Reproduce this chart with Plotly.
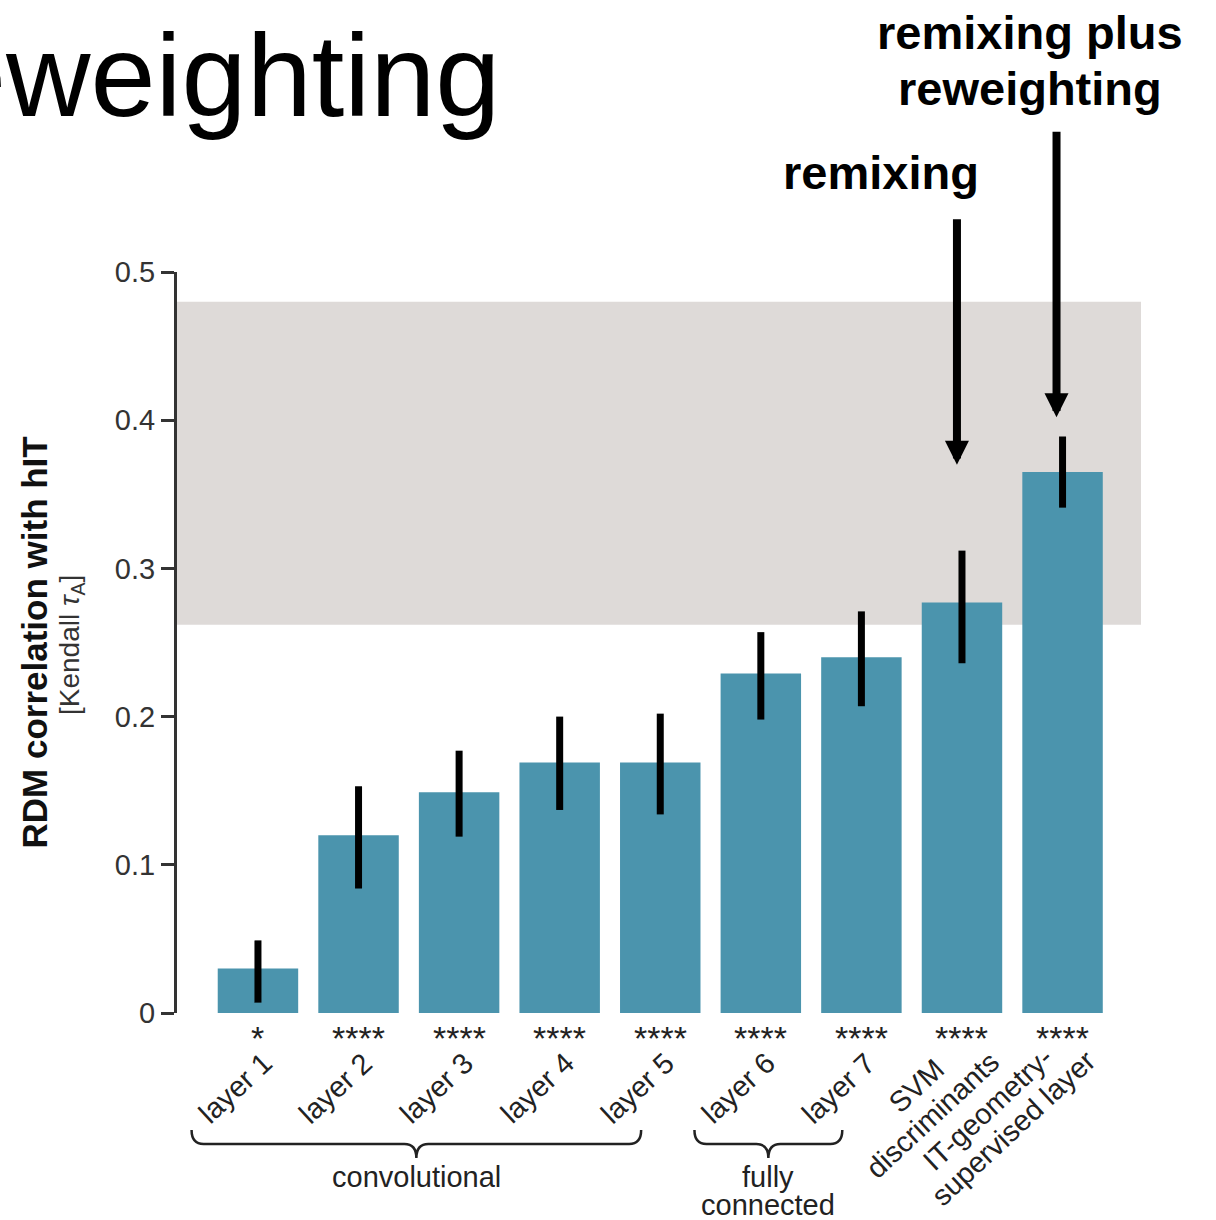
import plotly.graph_objects as go

# Model layers and their RDM correlation with human IT (Kendall tau-A)
labels = ["layer 1", "layer 2", "layer 3", "layer 4", "layer 5",
          "layer 6", "layer 7", "SVM<br>discriminants",
          "IT-geometry-<br>supervised layer"]
corr = [0.030, 0.120, 0.149, 0.169, 0.169, 0.229, 0.240, 0.277, 0.365]
ci_upper = [0.049, 0.153, 0.177, 0.200, 0.202, 0.257, 0.271, 0.312, 0.389]
ci_lower = [0.007, 0.084, 0.119, 0.137, 0.134, 0.198, 0.207, 0.236, 0.341]
stars = ["*", "****", "****", "****", "****", "****", "****", "****", "****"]

# Noise ceiling band (lower and upper bound)
ceiling_lower = 0.262
ceiling_upper = 0.480

# Layer groups marked with braces under the labels
groups = [(["convolutional"], 0, 4), (["fully", "connected"], 5, 6)]

y_ticks = [0, 0.1, 0.2, 0.3, 0.4, 0.5]
y_tick_text = ["0", "0.1", "0.2", "0.3", "0.4", "0.5"]

FONT = "Liberation Sans, Arial, Helvetica, sans-serif"
BAR = "#4b94ad"
TXT = "#333333"
X_RANGE = [-0.805, 8.78]
LABEL_ANGLE = -43

# pixel offsets (x, y) of each rotated label line's end from its bar centre
LINE_SHIFTS = {
    1: [(23, -31)],
    "SVM": [(-9, -37), (46, -30)],
    "IT": [(-1, -26), (42, -29)],
}

x = list(range(len(labels)))
err_plus = [u - m for u, m in zip(ci_upper, corr)]
err_minus = [m - l for m, l in zip(corr, ci_lower)]

fig = go.Figure()
fig.add_trace(go.Bar(
    x=x, y=corr, width=0.8,
    marker=dict(color=BAR, line=dict(width=0)),
    error_y=dict(type="data", symmetric=False, array=err_plus,
                 arrayminus=err_minus, color="black", thickness=7, width=0),
    hoverinfo="skip",
))

shapes = [dict(type="rect", xref="paper", yref="y", x0=0, x1=1,
               y0=ceiling_lower, y1=ceiling_upper,
               fillcolor="#dedad8", line=dict(width=0), layer="below")]

annotations = []

# significance stars and rotated category labels
for i, (lab, st) in enumerate(zip(labels, stars)):
    annotations.append(dict(x=i, y=0, xref="x", yref="y", text=st,
                            showarrow=False, xanchor="center", yanchor="top",
                            yshift=-4, font=dict(family=FONT, size=34, color="#222222")))
    lines = lab.split("<br>")
    if len(lines) == 1:
        shifts = LINE_SHIFTS[1]
    else:
        shifts = LINE_SHIFTS["SVM" if lines[0].startswith("SVM") else "IT"]
    for line, (xs, ys) in zip(lines, shifts):
        annotations.append(dict(x=i, y=0, xref="x", yref="y", text=line,
                                showarrow=False, textangle=LABEL_ANGLE,
                                xanchor="right", yanchor="top", xshift=xs, yshift=ys,
                                font=dict(family=FONT, size=29, color="#222222")))

# paper-coordinate helpers for the area around the plot
PLOT_TOP, PLOT_BOTTOM, PLOT_LEFT, PLOT_RIGHT = 272, 1013, 177, 1141


def px_x(v):
    return (v - X_RANGE[0]) / (X_RANGE[1] - X_RANGE[0])


def pix_x(pix):
    return (pix - PLOT_LEFT) / (PLOT_RIGHT - PLOT_LEFT)


def py(pix):
    return (PLOT_BOTTOM - pix) / (PLOT_BOTTOM - PLOT_TOP)


def brace_path(xa, xb, y_end, y_line, y_tip, r):
    xm = (xa + xb) / 2
    return (f"M{xa},{y_end} Q{xa},{y_line} {xa + r},{y_line} "
            f"L{xm - r},{y_line} Q{xm},{y_line} {xm},{y_tip} "
            f"Q{xm},{y_line} {xm + r},{y_line} "
            f"L{xb - r},{y_line} Q{xb},{y_line} {xb},{y_end}")


r_paper = 12 / (PLOT_RIGHT - PLOT_LEFT)
for name_lines, a, b in groups:
    xa = px_x(a - 0.66)
    xb = px_x(b - 0.19)
    shapes.append(dict(type="path", xref="paper", yref="paper",
                       path=brace_path(xa, xb, py(1130), py(1144), py(1158), r_paper),
                       line=dict(color="#222222", width=2.5)))
    for k, line in enumerate(name_lines):
        annotations.append(dict(x=(xa + xb) / 2, y=py(1177 + 28 * k),
                                xref="paper", yref="paper",
                                text=line, showarrow=False, xanchor="center",
                                yanchor="middle",
                                font=dict(family=FONT, size=29, color="#222222")))

# axis title
annotations.append(dict(x=pix_x(34), y=0.5, xref="paper", yref="paper",
                        text="<b>RDM correlation with hIT</b>", textangle=-90,
                        showarrow=False, xanchor="center", yanchor="middle",
                        font=dict(family=FONT, size=35, color="#111111")))
annotations.append(dict(x=pix_x(71), y=py(645), xref="paper", yref="paper",
                        text="[Kendall <i>τ</i><sub>A</sub>]", textangle=-90,
                        showarrow=False, xanchor="center", yanchor="middle",
                        font=dict(family=FONT, size=28, color="#333333")))

# arrows pointing at the remixed / reweighted models
annotations.append(dict(x=6.95, y=0.370, xref="x", yref="y", text="",
                        showarrow=True, ax=0, ay=-247, axref="pixel", ayref="pixel",
                        arrowhead=2, arrowwidth=8, arrowsize=0.6,
                        arrowcolor="black", standoff=0))
annotations.append(dict(x=7.94, y=0.402, xref="x", yref="y", text="",
                        showarrow=True, ax=0, ay=-287, axref="pixel", ayref="pixel",
                        arrowhead=2, arrowwidth=8, arrowsize=0.6,
                        arrowcolor="black", standoff=0))
annotations.append(dict(x=pix_x(881), y=py(173), xref="paper", yref="paper",
                        text="<b>remixing</b>",
                        showarrow=False, xanchor="center", yanchor="middle",
                        font=dict(family=FONT, size=47, color="black")))
for k, line in enumerate(["remixing plus", "reweighting"]):
    annotations.append(dict(x=pix_x(1030), y=py(32 + 56 * k),
                            xref="paper", yref="paper", text=f"<b>{line}</b>",
                            showarrow=False, xanchor="center", yanchor="middle",
                            font=dict(family=FONT, size=47, color="black")))

# heading running in from the left edge
annotations.append(dict(x=pix_x(502), y=py(75),
                        xref="paper", yref="paper", text="reweighting",
                        showarrow=False, xanchor="right", yanchor="middle",
                        font=dict(family=FONT, size=117, color="black")))

fig.update_layout(
    width=1216, height=1220,
    margin=dict(l=PLOT_LEFT, r=1216 - PLOT_RIGHT, t=PLOT_TOP, b=1220 - PLOT_BOTTOM),
    paper_bgcolor="white", plot_bgcolor="rgba(0,0,0,0)",
    showlegend=False, bargap=0.2,
    shapes=shapes, annotations=annotations,
    font=dict(family=FONT),
    xaxis=dict(range=X_RANGE, showticklabels=False, showline=False,
               showgrid=False, zeroline=False, ticks=""),
    yaxis=dict(range=[0, 0.5], tickvals=y_ticks, ticktext=y_tick_text,
               showline=True, linecolor=TXT, linewidth=3, ticks="outside",
               ticklen=13, tickwidth=3, tickcolor=TXT, showgrid=False,
               zeroline=False, ticklabelstandoff=0,
               tickfont=dict(family=FONT, size=29, color=TXT)),
)

fig.write_html("out.html")
